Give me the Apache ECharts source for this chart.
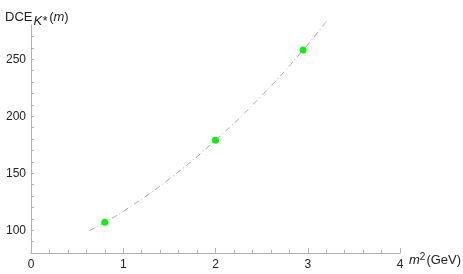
<!DOCTYPE html>
<html>
<head>
<meta charset="utf-8">
<script src="https://cdn.jsdelivr.net/npm/echarts@6/dist/echarts.min.js"></script>
<style>html,body{margin:0;padding:0;background:#fff}#c{width:463px;height:274px}</style>
</head>
<body>
<div id="c"></div>
<script>
// Data points (m^2 in GeV, DCE value)
const pointX = [0.8, 2.0, 2.95];
const pointY = [107, 179, 258];
// Fitted curve
const curveX = [0.63, 0.8, 1.0, 1.5, 2.0, 2.5, 2.95, 3.2];
const curveY = [99.5, 107, 116.5, 145, 179, 218, 258, 283];
// Axis ticks
const xTicks = [0, 1, 2, 3, 4];
const yTicks = [100, 150, 200, 250];

const chart = echarts.init(document.getElementById('c'), null, {renderer: 'canvas'});
const axisColor = '#b0b0b0';
const font = 'Liberation Sans, Arial, sans-serif';
const base = {fontFamily: font, fontSize: 13, fontWeight: 'normal', color: '#222'};
chart.setOption({
  animation: false,
  title: [
    {
      left: 0, top: 1,
      text: '{a|DCE}{s|K*}{a|(}{i|m}{a|)}',
      textStyle: {
        fontWeight: 'normal',
        rich: {
          a: base,
          i: Object.assign({}, base, {fontStyle: 'italic'}),
          s: Object.assign({}, base, {fontStyle: 'italic', verticalAlign: 'bottom', padding: [9, 2, 0, 1]})
        }
      }
    },
    {
      left: 404, top: 247,
      text: '{i|m}{p|2}{a|(GeV)}',
      textStyle: {
        fontWeight: 'normal',
        rich: {
          a: base,
          i: Object.assign({}, base, {fontStyle: 'italic'}),
          p: Object.assign({}, base, {fontSize: 10, verticalAlign: 'top', padding: [0, 1, 6, 0]})
        }
      }
    }
  ],
  grid: {left: 31, right: 63, top: 25, bottom: 21, containLabel: false},
  xAxis: {
    type: 'value', min: 0, max: 4, interval: 1,
    axisLine: {show: true, onZero: false, lineStyle: {color: axisColor, width: 1}},
    axisTick: {show: true, inside: true, length: 5, lineStyle: {color: axisColor}},
    minorTick: {show: true, splitNumber: 5, length: 3, lineStyle: {color: axisColor}},
    splitLine: {show: false},
    axisLabel: {
      color: '#222', fontFamily: font, fontSize: 12, margin: 6,
      formatter: v => xTicks.includes(v) ? String(v) : ''
    }
  },
  yAxis: {
    type: 'value', min: 80, max: 280, interval: 10,
    axisLine: {show: true, onZero: false, lineStyle: {color: axisColor, width: 1}},
    axisTick: {show: true, inside: true, length: 3, lineStyle: {color: axisColor}},
    splitLine: {show: false},
    axisLabel: {
      color: '#222', fontFamily: font, fontSize: 12, margin: 5,
      showMinLabel: false, showMaxLabel: false,
      formatter: v => yTicks.includes(v) ? String(v) : ''
    }
  },
  series: [
    {
      type: 'line',
      data: curveX.map((x, i) => [x, curveY[i]]),
      smooth: true,
      showSymbol: false,
      clip: false,
      lineStyle: {color: '#a8a8a8', width: 1, type: [6, 3, 1, 3]},
      z: 1
    },
    {
      type: 'scatter',
      data: pointX.map((x, i) => [x, pointY[i]]),
      symbol: 'circle',
      symbolSize: 7,
      itemStyle: {color: '#11ee11', opacity: 1},
      z: 2
    }
  ]
});
</script>
</body>
</html>
